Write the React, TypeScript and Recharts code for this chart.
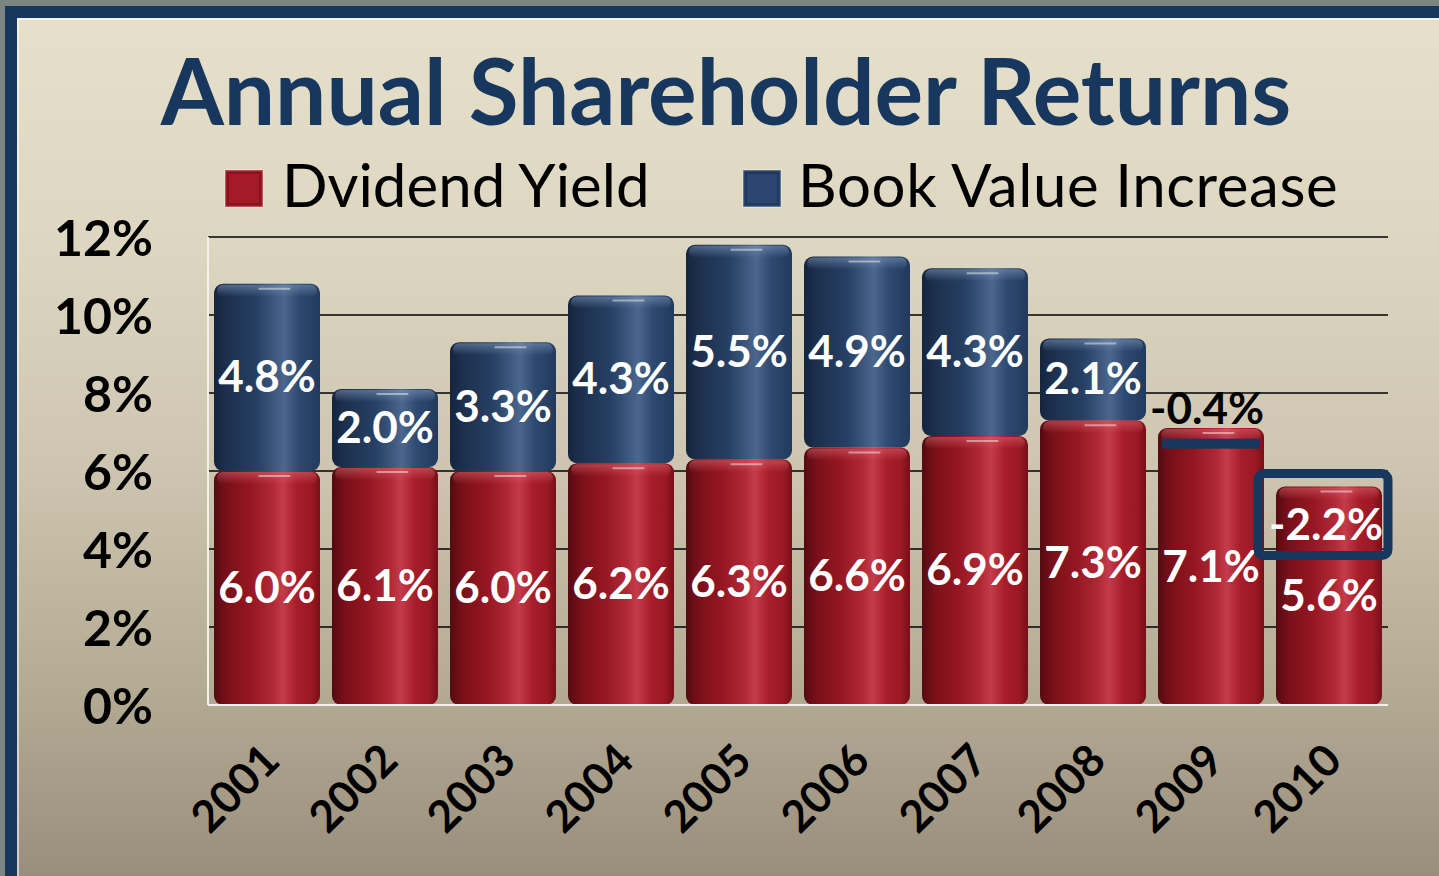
import React from 'react';
import { BarChart, Bar, XAxis, YAxis, CartesianGrid, LabelList } from 'recharts';

const YEARS = ['2001', '2002', '2003', '2004', '2005', '2006', '2007', '2008', '2009', '2010'];
const DIVIDEND_YIELD = [6.0, 6.1, 6.0, 6.2, 6.3, 6.6, 6.9, 7.3, 7.1, 5.6];
const BOOK_VALUE_INCREASE = [4.8, 2.0, 3.3, 4.3, 5.5, 4.9, 4.3, 2.1, -0.4, -2.2];
const Y_TICKS = [0, 2, 4, 6, 8, 10, 12];

const TITLE = 'Annual Shareholder Returns';
const LEGEND_DIVIDEND = 'Dvidend Yield';
const LEGEND_BOOK = 'Book Value Increase';

const FONT = 'Lato, "Open Sans", sans-serif';
const NAVY = '#17375e';

const rows = YEARS.map((year, i) => ({
  year,
  dividend: DIVIDEND_YIELD[i],
  book: BOOK_VALUE_INCREASE[i],
  bookUp: Math.max(0, BOOK_VALUE_INCREASE[i]),
}));

const pct = (v: number) => `${v.toFixed(1)}%`;

// cylinder-ish bar: horizontal gradient body + a soft highlight on the cap
function Cylinder(props: any) {
  const { x, y, width, height, gradId, capId } = props;
  if (!height || height <= 0) return null;
  const r = 9;
  return (
    <g>
      <rect x={x} y={y} width={width} height={height} rx={r} ry={r} fill={`url(#${gradId})`} />
      <rect x={x + 3} y={y + 1} width={width - 6} height={12} rx={6} fill={`url(#${capId})`} />
      <line x1={x + width * 0.42} x2={x + width * 0.72} y1={y + 5} y2={y + 5} stroke="#ffffff" strokeOpacity={0.45} strokeWidth={2} />
    </g>
  );
}

function innerLabel(props: any) {
  const vb = props.viewBox ?? props;
  const { x, y, width, height } = vb;
  const v = Number(props.value);
  if (!(v > 0) || !(height > 0)) return null;
  return (
    <text
      x={x + width / 2}
      y={y + height / 2 + 15}
      textAnchor="middle"
      fill="#ffffff"
      fontFamily={FONT}
      fontWeight={700}
      fontSize={44}
    >
      {pct(v)}
    </text>
  );
}

// negative book value change: drawn as a marker inside the dividend bar
function negativeMarker(props: any) {
  const vb = props.viewBox ?? props;
  const { x, y, width, height } = vb;
  const v = Number(props.value);
  const i = props.index;
  if (!(v < 0)) return null;
  const perUnit = height / DIVIDEND_YIELD[i];
  const yEnd = y - v * perUnit;
  const cx = x + width / 2;
  if (Math.abs(v) < 1) {
    return (
      <g>
        <rect x={x + 4} y={yEnd - 5} width={width - 8} height={10} fill={NAVY} />
        <text x={cx - 4} y={y - 4} textAnchor="middle" fill="#000" fontFamily={FONT} fontWeight={700} fontSize={44}>
          {pct(v)}
        </text>
      </g>
    );
  }
  const cy = (y + yEnd) / 2;
  return (
    <g>
      <rect x={x - 18} y={y - 13} width={width + 24} height={cy + 26 - (y - 13)} rx={6} fill="none" stroke={NAVY} strokeWidth={9} />
      <text x={cx - 3} y={cy + 10} textAnchor="middle" fill="#ffffff" fontFamily={FONT} fontWeight={700} fontSize={44}>
        {pct(v)}
      </text>
    </g>
  );
}

function YearTick(props: any) {
  const { x, y, payload } = props;
  const ax = x + 15;
  const ay = y + 58;
  return (
    <text
      x={ax}
      y={ay}
      textAnchor="end"
      transform={`rotate(-45, ${ax}, ${ay})`}
      fill="#000"
      fontFamily={FONT}
      fontWeight={700}
      fontSize={44}
    >
      {payload.value}
    </text>
  );
}

function PctTick(props: any) {
  const { y, payload } = props;
  return (
    <text x={153} y={y + 19} textAnchor="end" fill="#000" fontFamily={FONT} fontWeight={700} fontSize={50}>
      {`${payload.value}%`}
    </text>
  );
}

function LegendSwatch({ x, fill }: { x: number; fill: string }) {
  return (
    <g>
      <rect x={x} y={170} width={38} height={37} fill={fill} stroke="#ffffff" strokeOpacity={0.5} strokeWidth={1} />
      <rect x={x + 3} y={173} width={32} height={31} fill="none" stroke="#000" strokeOpacity={0.2} strokeWidth={2} />
    </g>
  );
}

export default function App() {
  return (
    <div style={{ position: 'absolute', left: 0, top: 0, width: 1439, height: 876, overflow: 'hidden', background: '#7b8581' }}>
      <div
        style={{
          position: 'absolute',
          left: 5,
          top: 6,
          width: 1460,
          height: 900,
          borderLeft: `12px solid ${NAVY}`,
          borderTop: `12px solid ${NAVY}`,
          background: 'linear-gradient(180deg, #e6e0cb 0%, #ddd6c0 25%, #cdc5af 50%, #b3aa94 75%, #938876 100%)',
          boxShadow: 'inset 2px 2px 0 rgba(255,255,255,0.55)',
        }}
      />
      <svg width={1439} height={876} style={{ position: 'absolute', left: 0, top: 0 }}>
        <text x={726} y={125} textAnchor="middle" fill={NAVY} fontFamily={FONT} fontWeight={700} fontSize={91}>
          {TITLE}
        </text>
        <LegendSwatch x={225} fill="#a51a28" />
        <text x={282} y={207} fill="#000" fontFamily={FONT} fontSize={60}>
          {LEGEND_DIVIDEND}
        </text>
        <LegendSwatch x={743} fill="#2a4670" />
        <text x={798} y={207} fill="#000" fontFamily={FONT} fontSize={60} letterSpacing={0.6}>
          {LEGEND_BOOK}
        </text>
      </svg>
      <div style={{ position: 'absolute', left: 0, top: 0 }}>
        <BarChart width={1439} height={876} data={rows} margin={{ top: 237, right: 51, bottom: 51, left: 0 }}>
          <defs>
            <linearGradient id="redGrad" x1="0" y1="0" x2="1" y2="0">
              <stop offset="0" stopColor="#560a11" />
              <stop offset="0.12" stopColor="#7a1019" />
              <stop offset="0.35" stopColor="#961723" />
              <stop offset="0.55" stopColor="#b02836" />
              <stop offset="0.65" stopColor="#c43c4a" />
              <stop offset="0.78" stopColor="#a81d2a" />
              <stop offset="0.92" stopColor="#9a1824" />
              <stop offset="1" stopColor="#761019" />
            </linearGradient>
            <linearGradient id="blueGrad" x1="0" y1="0" x2="1" y2="0">
              <stop offset="0" stopColor="#152540" />
              <stop offset="0.15" stopColor="#1e3250" />
              <stop offset="0.4" stopColor="#263f63" />
              <stop offset="0.58" stopColor="#3e5a80" />
              <stop offset="0.66" stopColor="#4c678d" />
              <stop offset="0.8" stopColor="#2e4a72" />
              <stop offset="1" stopColor="#213a5d" />
            </linearGradient>
            <linearGradient id="redCap" x1="0" y1="0" x2="0" y2="1">
              <stop offset="0" stopColor="#e06a76" stopOpacity={0.5} />
              <stop offset="1" stopColor="#e06a76" stopOpacity={0} />
            </linearGradient>
            <linearGradient id="blueCap" x1="0" y1="0" x2="0" y2="1">
              <stop offset="0" stopColor="#8aa2c4" stopOpacity={0.5} />
              <stop offset="1" stopColor="#8aa2c4" stopOpacity={0} />
            </linearGradient>
          </defs>
          <CartesianGrid vertical={false} stroke="#000" strokeWidth={1.5} />
          <XAxis
            dataKey="year"
            height={120}
            tickLine={false}
            tickSize={0}
            tickMargin={0}
            axisLine={{ stroke: '#f4f1ea', strokeWidth: 2 }}
            tick={<YearTick />}
            interval={0}
          />
          <YAxis
            width={208}
            domain={[0, 12]}
            ticks={Y_TICKS}
            tickLine={false}
            tickSize={0}
            axisLine={{ stroke: '#f4f1ea', strokeWidth: 2 }}
            tick={<PctTick />}
          />
          <Bar
            dataKey="dividend"
            stackId="ret"
            barSize={106}
            isAnimationActive={false}
            shape={(p: any) => <Cylinder {...p} gradId="redGrad" capId="redCap" />}
          >
            <LabelList dataKey="dividend" content={innerLabel} />
            <LabelList dataKey="book" content={negativeMarker} />
          </Bar>
          <Bar
            dataKey="bookUp"
            stackId="ret"
            barSize={106}
            isAnimationActive={false}
            shape={(p: any) => <Cylinder {...p} gradId="blueGrad" capId="blueCap" />}
          >
            <LabelList dataKey="book" content={innerLabel} />
          </Bar>
        </BarChart>
      </div>
    </div>
  );
}
